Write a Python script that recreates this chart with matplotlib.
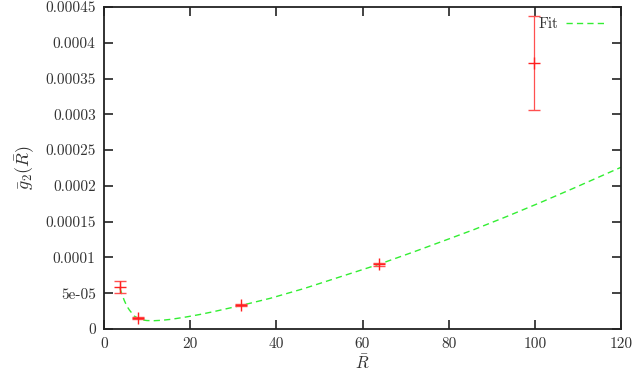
import matplotlib
matplotlib.use("Agg")
import matplotlib.pyplot as plt

# Data points
R_pts = [3.7, 7.8, 31.7, 63.8, 99.8]
g_pts = [5.85e-5, 1.5e-5, 3.35e-5, 9.04e-5, 3.72e-4]
g_err = [0.84e-5, 0.15e-5, 0.15e-5, 0.2e-5, 6.6e-5]

# Fit curve samples
R_fit = [3.7, 4.2, 4.7, 5.3, 5.9, 7.0, 8.5, 10, 11.6, 13.5, 15.5, 18.6, 22,
         25.4, 31.6, 38.6, 46.4, 54.1, 63.8, 71.9, 80.1, 85.9, 93.6, 101.4,
         109.1, 120]
g_fit = [5.7e-5, 4.8e-5, 4.0e-5, 3.2e-5, 2.65e-5, 1.82e-5, 1.3e-5, 1.18e-5,
         1.16e-5, 1.22e-5, 1.35e-5, 1.63e-5, 2.0e-5, 2.42e-5, 3.26e-5,
         4.29e-5, 5.65e-5, 7.15e-5, 9.04e-5, 10.78e-5, 12.6e-5, 13.9e-5,
         15.75e-5, 17.7e-5, 19.7e-5, 22.6e-5]

xticks = [0, 20, 40, 60, 80, 100, 120]
yticks = [0, 5e-5, 1e-4, 1.5e-4, 2e-4, 2.5e-4, 3e-4, 3.5e-4, 4e-4, 4.5e-4]
ytick_labels = ["0", "5e-05", "0.0001", "0.00015", "0.0002", "0.00025",
                "0.0003", "0.00035", "0.0004", "0.00045"]

plt.rcParams['font.family'] = ['cmr10', 'DejaVu Serif']
plt.rcParams['mathtext.fontset'] = 'cm'
plt.rcParams['axes.unicode_minus'] = False

fig = plt.figure(figsize=(6.37, 3.74), dpi=100)
ax = fig.add_axes([104/637, 1-329/374, (621-104)/637, (329-7)/374])

ax.plot(R_fit, g_fit, color='#33ee33', lw=1.0, dashes=(4.5, 3), label='Fit')
ax.errorbar(R_pts, g_pts, yerr=g_err, fmt='+', color='#ff2020', ms=8,
            mew=1.0, elinewidth=0.9, capsize=4, capthick=0.9, ecolor='#ff5050')

ax.set_xlim(0, 120)
ax.set_ylim(0, 4.5e-4)
ax.set_xticks(xticks)
ax.set_xticklabels([str(t) for t in xticks])
ax.set_yticks(yticks)
ax.set_yticklabels(ytick_labels)
ax.tick_params(direction='in', length=6.5, width=1.2, top=True, right=True,
               labelsize=11, pad=6, colors='#222222', labelcolor='#333333')
for s in ax.spines.values():
    s.set_linewidth(1.3)
    s.set_color('#222222')

ax.set_xlabel(r'$\bar{R}$', fontsize=12, labelpad=2, color='#333333')
ax.set_ylabel(r'$\bar{g}_2(\bar{R})$', fontsize=13, labelpad=6, color='#333333')

leg = ax.legend(loc='upper right', frameon=False, fontsize=11,
                markerfirst=False, handlelength=2.55, handletextpad=0.5,
                borderaxespad=0.4,
                bbox_to_anchor=(1 - 4/517, 1 + 2/322))
for t in leg.get_texts():
    t.set_color('#333333')

fig.savefig('out.png', dpi=100)
